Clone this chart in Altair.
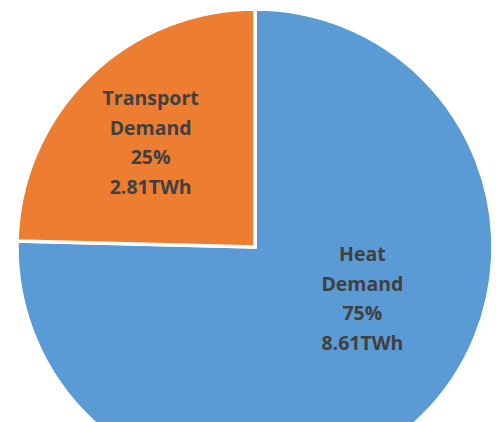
import altair as alt
import pandas as pd

categories = ["Heat Demand", "Transport Demand"]
twh = [8.61, 2.81]
colors = ["#5B9BD5", "#ED7D31"]
order = [0, 1]

total = sum(twh)
labels = []
for c, v in zip(categories, twh):
    pct = round(v / total * 100)
    labels.append(c.replace(" ", "\n") + f"\n{pct}%\n{v:.2f}TWh")

df = pd.DataFrame({"cat": categories, "twh": twh, "order": order, "label": labels})

cx, cy = 247, 239
theta_scale = alt.Scale(domain=[0, total])

base = alt.Chart(df).transform_stack(
    stack="twh", groupby=[], as_=["t0", "t1"], sort=[alt.SortField("order", order="ascending")]
).transform_calculate(mid="(datum.t0 + datum.t1) / 2").encode(
    x=alt.value(cx),
    y=alt.value(cy),
)

arc = base.mark_arc(outerRadius=238, stroke="white", strokeWidth=3.5).encode(
    theta=alt.Theta("t0:Q", scale=theta_scale),
    theta2="t1:Q",
    color=alt.Color("cat:N", scale=alt.Scale(domain=categories, range=colors), legend=None),
)

text_style = dict(lineBreak="\n", lineHeight=29.5, font="Open Sans", fontSize=19.5,
                  fontWeight="bold", color="#404040", align="center", baseline="middle")

heat_text = base.transform_filter(alt.datum.cat == "Heat Demand").mark_text(
    radius=118, dx=25, dy=-76, **text_style
).encode(theta=alt.Theta("mid:Q", scale=theta_scale), text="label:N")

trans_text = base.transform_filter(alt.datum.cat == "Transport Demand").mark_text(
    radius=148, dx=-1, dy=-42, **text_style
).encode(theta=alt.Theta("mid:Q", scale=theta_scale), text="label:N")

chart = alt.layer(arc, heat_text, trans_text).properties(
    width=483, height=414, autosize=alt.AutoSizeParams(type="none"), padding=0
).configure_view(stroke=None)

chart.save("out.html", embed_options={"renderer": "svg", "actions": False})
